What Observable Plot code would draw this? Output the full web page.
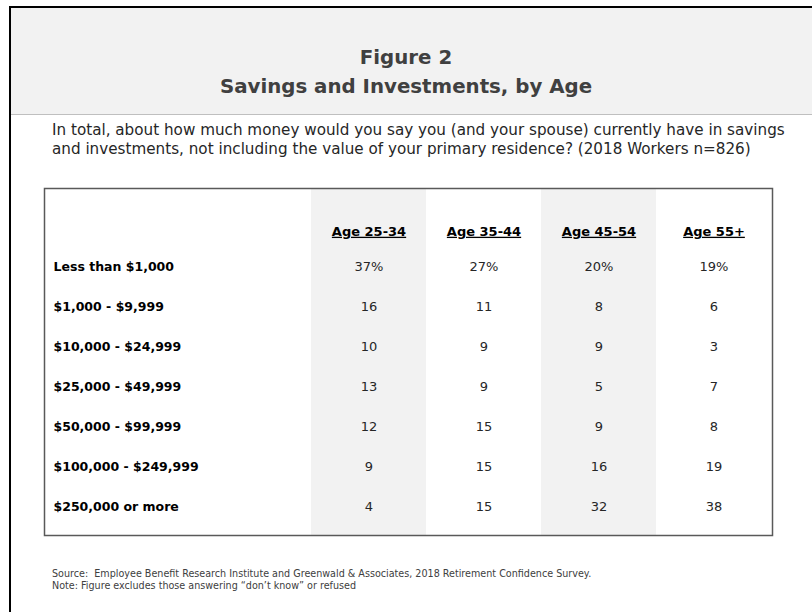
<!DOCTYPE html>
<html>
<head>
<meta charset="utf-8">
<script src="https://cdn.jsdelivr.net/npm/d3@7"></script>
<script src="https://cdn.jsdelivr.net/npm/@observablehq/plot@0.6"></script>
<style>
  html, body { margin: 0; padding: 0; background: #fff; }
  body { width: 812px; height: 612px; position: relative; overflow: hidden; font-family: "DejaVu Sans", sans-serif; }
  #outer { position: absolute; left: 9px; top: 6px; width: 803px; height: 606px; border-left: 2px solid #000; border-top: 2px solid #000; box-sizing: border-box; }
  #header { position: absolute; left: 11px; top: 8px; width: 801px; height: 106px; background: #f2f2f2; border-bottom: 1px solid #bfbfbf; }
  .title { position: absolute; left: 0; width: 790px; text-align: center; color: #404040; font-weight: bold; font-size: 19.8px; line-height: 22px; }
  #question { position: absolute; left: 52px; top: 121px; font-size: 15.2px; line-height: 19px; color: #262626; white-space: nowrap; }
  #source { position: absolute; left: 52px; top: 568px; font-size: 9.6px; line-height: 12px; color: #404040; white-space: nowrap; }
  #chart { position: absolute; left: 0; top: 186px; }
  #chart text.hdr { text-decoration: underline; }
</style>
</head>
<body>
<div id="outer"></div>
<div id="header">
  <div class="title" style="top: 39px;">Figure 2</div>
  <div class="title" style="top: 68px;">Savings and Investments, by Age</div>
</div>
<div id="question">In total, about how much money would you say you (and your spouse) currently have in savings<br>and investments, not including the value of your primary residence? (2018 Workers n=826)</div>
<div id="chart"></div>
<div id="source">Source:&nbsp; Employee Benefit Research Institute and Greenwald &amp; Associates, 2018 Retirement Confidence Survey.<br>Note: Figure excludes those answering “don’t know” or refused</div>
<script>
const ageGroups = ["Age 25-34", "Age 35-44", "Age 45-54", "Age 55+"];
const brackets = ["Less than $1,000", "$1,000 - $9,999", "$10,000 - $24,999", "$25,000 - $49,999", "$50,000 - $99,999", "$100,000 - $249,999", "$250,000 or more"];
const age2534 = [37, 16, 10, 13, 12, 9, 4];
const age3544 = [27, 11, 9, 9, 15, 15, 15];
const age4554 = [20, 8, 9, 5, 9, 16, 32];
const age55 = [19, 6, 3, 7, 8, 19, 38];
const shadedGroups = ["Age 25-34", "Age 45-54"];

const series = [age2534, age3544, age4554, age55];
const cells = [];
ageGroups.forEach((g, i) => {
  brackets.forEach((b, j) => {
    cells.push({group: g, bracket: b, value: series[i][j], first: j === 0});
  });
});

const plot = Plot.plot({
  width: 812,
  height: 351,
  marginTop: 2,
  marginBottom: 2,
  marginLeft: 44,
  marginRight: 40,
  style: {fontFamily: "DejaVu Sans, sans-serif", background: "transparent", overflow: "visible"},
  x: {type: "band", domain: ageGroups, range: [309, 772], padding: 0, axis: null},
  y: {type: "band", domain: brackets, range: [57.65, 342.55], padding: 0, axis: null},
  marks: [
    Plot.cell(shadedGroups, {x: d => d, fill: "#f2f2f2"}),
    Plot.text(ageGroups, {x: d => d, text: d => d, frameAnchor: "top", dy: 38, fontWeight: "bold", fontSize: 13, fill: "#000"}),
    Plot.text(brackets, {y: d => d, text: d => d, frameAnchor: "left", dx: 9, textAnchor: "start", fontWeight: "bold", fontSize: 12.5, fill: "#000"}),
    Plot.text(cells, {x: "group", y: "bracket", text: d => d.first ? d.value + "%" : String(d.value), fontSize: 13, fill: "#262626"}),
    Plot.frame({stroke: "#595959", strokeWidth: 1.5})
  ]
});
const textGroups = plot.querySelectorAll('g[aria-label="text"]');
if (textGroups.length) {
  textGroups[0].querySelectorAll("text").forEach(t => {
    t.classList.add("hdr");
    t.setAttribute("text-decoration", "underline");
    t.style.textDecoration = "underline";
  });
}
document.getElementById("chart").appendChild(plot);
</script>
</body>
</html>
